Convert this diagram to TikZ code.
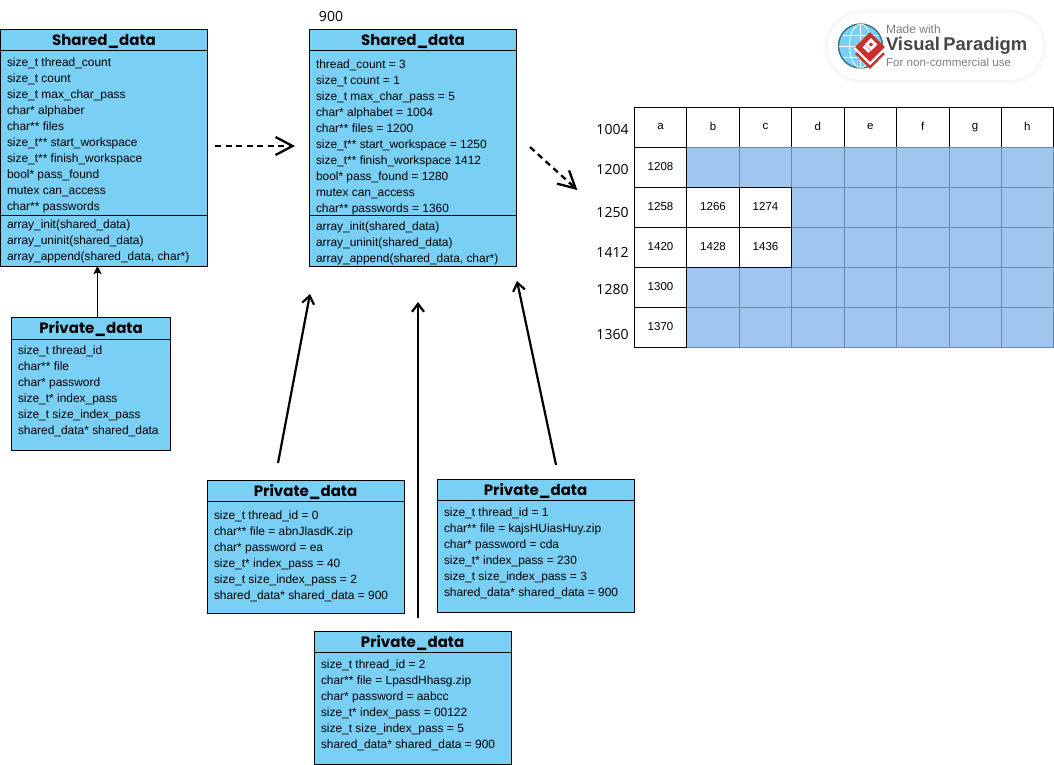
\documentclass[tikz,border=0pt]{standalone}
\usepackage{fontspec}
\setmainfont{Liberation Sans}
\newfontfamily\titlefont{Poppins}[BoldFont=Poppins Bold]
\newfontfamily\labelfont{Open Sans}
\usepackage{xcolor}
\definecolor{classblue}{RGB}{122,207,245}
\definecolor{cellblue}{RGB}{160,198,240}
\definecolor{cellline}{RGB}{104,140,176}
\definecolor{vpred}{RGB}{200,48,44}
\definecolor{vpgrey}{RGB}{70,70,70}
\definecolor{globeline}{RGB}{60,120,140}
\usetikzlibrary{arrows.meta,calc,shadows.blur}
\tikzstyle{classbox} = [draw,fill=classblue,anchor=north west,inner sep=0pt]
\tikzstyle{classtitle} = [font=\titlefont\bfseries\fontsize{15}{15}\selectfont]
\tikzstyle{classtext} = [anchor=north west,inner sep=0pt,align=left,
    font=\fontsize{11.93}{16}\selectfont]
\tikzstyle{cellbox} = [minimum height=40pt,inner sep=0pt,anchor=north west,
    font=\fontsize{11.5}{14}\selectfont]
\tikzstyle{memlabel} = [inner sep=0pt,font=\labelfont\fontsize{14}{14}\selectfont]
\tikzstyle{dasharrow} = [-{Straight Barb[length=17pt,width=18pt]},line width=2.3pt,
    dash pattern=on 6pt off 4.5pt]
\tikzstyle{bigarrow} = [-{Straight Barb[length=8pt,width=12pt]},line width=2.2pt]
\begin{document}
\begin{tikzpicture}[x=1pt,y=-1pt,line width=1pt,every node/.style={outer sep=0pt}]
    \useasboundingbox (0,0) rectangle (1054,765);

    % shared data, declaration
    \node [classbox,minimum width=207pt,minimum height=236.5pt] (shareddecl) at (0.5,29.5) {};
    \draw (0.5,50.5) -- (207.5,50.5);
    \draw (0.5,215.5) -- (207.5,215.5);
    \node [classtitle] (shareddecltitle) at (104,41) {Shared\_data};
    \node [classtext] (shareddeclattr) at (7,58) {size\_t thread\_count\\size\_t count\\size\_t max\_char\_pass\\char* alphaber\\char** files\\size\_t** start\_workspace\\size\_t** finish\_workspace\\bool* pass\_found\\mutex can\_access\\char** passwords};
    \node [classtext] (shareddeclop) at (7,220) {array\_init(shared\_data)\\array\_uninit(shared\_data)\\array\_append(shared\_data, char*)};

    % shared data, values
    \node [memlabel] (addr900) at (331,16) {900};
    \node [classbox,minimum width=207pt,minimum height=236.5pt] (sharedval) at (309.5,29.5) {};
    \draw (309.5,50.5) -- (516.5,50.5);
    \draw (309.5,215.5) -- (516.5,215.5);
    \node [classtitle] (sharedvaltitle) at (413,41) {Shared\_data};
    \node [classtext] (sharedvalattr) at (316,60) {thread\_count = 3\\size\_t count = 1\\size\_t max\_char\_pass = 5\\char* alphabet = 1004\\char** files = 1200\\size\_t** start\_workspace = 1250\\size\_t** finish\_workspace 1412\\bool* pass\_found = 1280\\mutex can\_access\\char** passwords = 1360};
    \node [classtext] (sharedvalop) at (316,222) {array\_init(shared\_data)\\array\_uninit(shared\_data)\\array\_append(shared\_data, char*)};

    % private data, declaration
    \node [classbox,minimum width=159pt,minimum height=132.5pt] (privdecl) at (11.5,317.5) {};
    \draw (11.5,339) -- (170.5,339);
    \node [classtitle] (privdecltitle) at (91,329) {Private\_data};
    \node [classtext] (privdeclattr) at (18,346) {size\_t thread\_id\\char** file\\char* password\\size\_t* index\_pass\\size\_t size\_index\_pass\\shared\_data* shared\_data};

    % private data, thread 0
    \node [classbox,minimum width=197pt,minimum height=132.5pt] (privzero) at (207.5,480.5) {};
    \draw (207.5,501.5) -- (404.5,501.5);
    \node [classtitle] (privzerotitle) at (305.5,492) {Private\_data};
    \node [classtext] (privzeroattr) at (214,510.5) {size\_t thread\_id = 0\\char** file = abnJlasdK.zip\\char* password = ea\\size\_t* index\_pass = 40\\size\_t size\_index\_pass = 2\\shared\_data* shared\_data = 900};

    % private data, thread 1
    \node [classbox,minimum width=197pt,minimum height=132.5pt] (privone) at (437.5,479.5) {};
    \draw (437.5,500.5) -- (634.5,500.5);
    \node [classtitle] (privonetitle) at (535.5,491) {Private\_data};
    \node [classtext] (privoneattr) at (444,508) {size\_t thread\_id = 1\\char** file = kajsHUiasHuy.zip\\char* password = cda\\size\_t* index\_pass = 230\\size\_t size\_index\_pass = 3\\shared\_data* shared\_data = 900};

    % private data, thread 2
    \node [classbox,minimum width=197pt,minimum height=132.5pt] (privtwo) at (314.5,631.5) {};
    \draw (314.5,652.5) -- (511.5,652.5);
    \node [classtitle] (privtwotitle) at (412.5,643) {Private\_data};
    \node [classtext] (privtwoattr) at (321,660) {size\_t thread\_id = 2\\char** file = LpasdHhasg.zip\\char* password = aabcc\\size\_t* index\_pass = 00122\\size\_t size\_index\_pass = 5\\shared\_data* shared\_data = 900};

    % table
    \foreach \name/\xa/\xb/\txt in {a/634.5/686.5/a,b/686.5/739.5/b,c/739.5/791.5/c,d/791.5/844/d,e/844/896.5/e,f/896.5/949/f,g/949/1001/g,h/1001/1053.5/h}
        \node [cellbox,draw,fill=white,minimum width=\xb pt-\xa pt] (cell0\name) at (\xa,107.5) {\raisebox{2.5pt}{\txt}};
    \foreach \row/\y in {1/147.5,2/187.5,3/227.5,4/267.5,5/307.5}
        \foreach \name/\xa/\xb in {b/686.5/739.5,c/739.5/791.5,d/791.5/844,e/844/896.5,f/896.5/949,g/949/1001,h/1001/1053.5}
            \node [cellbox,draw=cellline,fill=cellblue,minimum width=\xb pt-\xa pt] (cell\row\name) at (\xa,\y) {};
    \foreach \row/\y/\txt in {1/147.5/1208,2/187.5/1258,3/227.5/1420,4/267.5/1300,5/307.5/1370}
        \node [cellbox,draw,fill=white,minimum width=52pt] (cell\row a) at (634.5,\y) {\raisebox{2.5pt}{\txt}};
    \foreach \row/\y/\ttb/\ttc in {2/187.5/1266/1274,3/227.5/1428/1436} {
        \node [cellbox,draw,fill=white,minimum width=53pt] (cell\row b) at (686.5,\y) {\raisebox{2.5pt}{\ttb}};
        \node [cellbox,draw,fill=white,minimum width=52pt] (cell\row c) at (739.5,\y) {\raisebox{2.5pt}{\ttc}};
    }

    % addresses beside the table
    \node [memlabel] (addr1004) at (612.5,129) {1004};
    \node [memlabel] (addr1200) at (612.5,169) {1200};
    \node [memlabel] (addr1250) at (612.5,212) {1250};
    \node [memlabel] (addr1412) at (612.5,252) {1412};
    \node [memlabel] (addr1280) at (612.5,289) {1280};
    \node [memlabel] (addr1360) at (612.5,334) {1360};

    % arrows
    \draw [-{Stealth[length=8pt,width=8pt,inset=1.5pt]}] ([xshift=6.5pt]privdecl.north) -- ([xshift=-6.5pt]shareddecl.south);
    \draw [dasharrow,shorten <=7.5pt,shorten >=14.5pt] ([yshift=1.75pt]shareddecl.east) -- ([yshift=1.75pt]sharedval.west);
    \draw [dasharrow,shorten <=18.3pt,shorten >=25.8pt] ([yshift=13pt]sharedval.east) -- ([yshift=4.6pt]addr1250.west);
    \draw [bigarrow,shorten <=17.8pt,shorten >=28.5pt] ([xshift=67.2pt]privzero.north west) -- ([xshift=5.8pt]sharedval.south west);
    \draw [bigarrow,shorten <=13.5pt,shorten >=36pt] ([xshift=103.5pt]privtwo.north west) -- ([xshift=108.5pt]sharedval.south west);
    \draw [bigarrow,shorten <=14.8pt,shorten >=15.3pt] ([xshift=121.6pt]privone.north west) -- ([xshift=204.3pt]sharedval.south west);

    % badge
    \node [fill=white,rounded corners=33pt,minimum width=215pt,minimum height=67pt,inner sep=0pt,
        blur shadow={shadow blur steps=8,shadow xshift=0pt,shadow yshift=0pt,shadow opacity=10,shadow blur radius=6pt}] (badge) at (935.5,46.5) {};
    \node [draw=globeline,line width=1.5pt,fill=classblue,circle,minimum size=44pt,inner sep=0pt] (globe) at (860.5,46) {};
    \draw [white,line width=0.8pt] (globe.west) -- (globe.east);
    \draw [white,line width=0.8pt] (globe.north) -- (globe.south);
    \draw [white,line width=0.8pt] (globe.north) arc [start angle=90,end angle=270,x radius=11pt,y radius=22pt];
    \draw [white,line width=0.8pt] (globe.north) arc [start angle=90,end angle=-90,x radius=11pt,y radius=22pt];
    \draw [white,line width=0.8pt] (842.5,35) -- (878.5,35);
    \draw [white,line width=0.8pt] (842.5,57) -- (878.5,57);
    \node [fill=vpred,rotate=45,minimum size=21pt,inner sep=0pt] (gemlow) at (870,54) {};
    \node [fill=white,rotate=45,minimum size=23pt,inner sep=0pt] (gemgap) at (870,49) {};
    \node [fill=vpred,rotate=45,minimum size=21pt,inner sep=0pt] (gem) at (870,47) {};
    \node [fill=white,rotate=45,minimum size=9pt,inner sep=0pt] (gemhole) at (871,44.5) {};
    \node [fill=vpred,rotate=45,minimum size=3pt,inner sep=0pt] (gemdot) at (871,44.5) {};
    \node [fill=white,rotate=45,minimum width=3pt,minimum height=8pt,inner sep=0pt] (gemtail) at (866.5,49) {};
    \node [anchor=west,inner sep=0pt,text=gray,font=\fontsize{12}{12}\selectfont] (badgemade) at (886,29.5) {Made with};
    \node [anchor=west,inner sep=0pt,text=vpgrey,font=\bfseries\fontsize{18.4}{18.4}\selectfont] (badgename) at (886,45.5) {\spaceskip=3.5pt Visual Paradigm};
    \node [anchor=west,inner sep=0pt,text=gray,font=\fontsize{11.6}{11.6}\selectfont] (badgeuse) at (886,62) {For non-commercial use};
\end{tikzpicture}
\end{document}
